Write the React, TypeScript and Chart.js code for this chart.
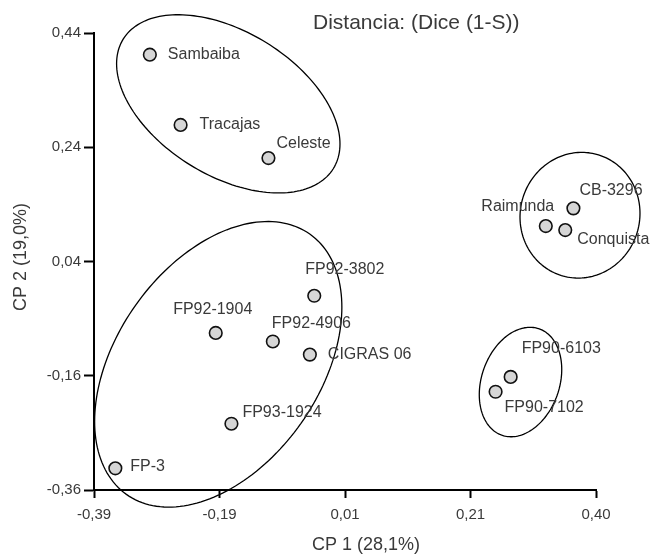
import React, { useEffect, useRef } from "react";
import { Chart, registerables } from "chart.js";

Chart.register(...registerables);

// ---- data ----
const names = [
  "Sambaiba",
  "Tracajas",
  "Celeste",
  "CB-3296",
  "Raimunda",
  "Conquista",
  "FP92-3802",
  "FP92-1904",
  "FP92-4906",
  "CIGRAS 06",
  "FP93-1924",
  "FP-3",
  "FP90-6103",
  "FP90-7102",
];
const cp1 = [-0.301, -0.252, -0.112, 0.374, 0.33, 0.361, -0.039, -0.196, -0.105, -0.046, -0.171, -0.356, 0.274, 0.25];
const cp2 = [0.402, 0.279, 0.221, 0.133, 0.102, 0.095, -0.02, -0.085, -0.1, -0.123, -0.244, -0.322, -0.162, -0.188];

const xTickValues = [-0.39, -0.19, 0.01, 0.21, 0.41];
const xTickLabels = ["-0,39", "-0,19", "0,01", "0,21", "0,40"];
const yTickValues = [-0.36, -0.16, 0.04, 0.24, 0.44];
const yTickLabels = ["-0,36", "-0,16", "0,04", "0,24", "0,44"];

// group ellipses (data units): centre, half extents, tilt (correlation)
const ellipseCx = [-0.176, -0.192, 0.3845, 0.2897];
const ellipseCy = [0.316, -0.14, 0.121, -0.171];
const ellipseHalfW = [0.178, 0.197, 0.0956, 0.0657];
const ellipseHalfH = [0.156, 0.25, 0.11, 0.0958];
const ellipseTilt = [-0.45, 0.4, 0.03, 0.23];

const titleText = "Distancia: (Dice (1-S))";
const xTitle = "CP 1 (28,1%)";
const yTitle = "CP 2 (19,0%)";

// label placement (pixel offsets from the point)
const labelPlacement: { dx: number; dy: number; align: CanvasTextAlign }[] = [
  { dx: 18, dy: 0, align: "left" },
  { dx: 19, dy: 0, align: "left" },
  { dx: 8, dy: -15, align: "left" },
  { dx: 6, dy: -18, align: "left" },
  { dx: -28, dy: -19, align: "center" },
  { dx: 12, dy: 10, align: "left" },
  { dx: -9, dy: -26, align: "left" },
  { dx: -3, dy: -23, align: "center" },
  { dx: -1, dy: -18, align: "left" },
  { dx: 18, dy: 0, align: "left" },
  { dx: 11, dy: -11, align: "left" },
  { dx: 15, dy: -2, align: "left" },
  { dx: 11, dy: -28, align: "left" },
  { dx: 9, dy: 16, align: "left" },
];

const FONT = "'Liberation Sans', Arial, Helvetica, sans-serif";
const TEXT = "#3a3a3a";

const overlayPlugin = {
  id: "overlay",
  afterDatasetsDraw(chart: any) {
    const ctx = chart.ctx as CanvasRenderingContext2D;
    const xs = chart.scales.x;
    const ys = chart.scales.y;
    ctx.save();
    // ellipses
    ctx.strokeStyle = "#000";
    ctx.lineWidth = 1.3;
    for (let e = 0; e < ellipseCx.length; e++) {
      const s = Math.sqrt(1 - ellipseTilt[e] * ellipseTilt[e]);
      ctx.beginPath();
      const N = 180;
      for (let i = 0; i <= N; i++) {
        const t = (i / N) * Math.PI * 2;
        const dxv = ellipseCx[e] + ellipseHalfW[e] * Math.cos(t);
        const dyv = ellipseCy[e] + ellipseHalfH[e] * (ellipseTilt[e] * Math.cos(t) + s * Math.sin(t));
        const px = xs.getPixelForValue(dxv);
        const py = ys.getPixelForValue(dyv);
        if (i === 0) ctx.moveTo(px, py);
        else ctx.lineTo(px, py);
      }
      ctx.closePath();
      ctx.stroke();
    }
    // point labels
    ctx.fillStyle = TEXT;
    ctx.font = `16px ${FONT}`;
    ctx.textBaseline = "middle";
    for (let i = 0; i < names.length; i++) {
      const px = xs.getPixelForValue(cp1[i]);
      const py = ys.getPixelForValue(cp2[i]);
      const p = labelPlacement[i];
      ctx.textAlign = p.align;
      ctx.fillText(names[i], px + p.dx, py + p.dy);
    }
    // titles
    ctx.font = `21px ${FONT}`;
    ctx.textAlign = "left";
    ctx.fillText(titleText, 313, 23);
    ctx.font = `18px ${FONT}`;
    ctx.textAlign = "center";
    ctx.fillText(xTitle, 366, 545);
    ctx.save();
    ctx.translate(21, 257);
    ctx.rotate(-Math.PI / 2);
    ctx.fillText(yTitle, 0, 0);
    ctx.restore();
    ctx.restore();
  },
};

export default function App() {
  const canvasRef = useRef<HTMLCanvasElement | null>(null);

  useEffect(() => {
    if (!canvasRef.current) return;
    const chart = new Chart(canvasRef.current, {
      type: "scatter",
      data: {
        datasets: [
          {
            label: "Genotipos",
            data: cp1.map((x, i) => ({ x, y: cp2[i] })),
            pointRadius: 6.3,
            pointHoverRadius: 6.3,
            pointBackgroundColor: "#d6d6d6",
            pointBorderColor: "#111111",
            pointBorderWidth: 1.6,
          },
        ],
      },
      options: {
        animation: false,
        responsive: true,
        maintainAspectRatio: false,
        layout: { padding: { top: 33, right: 54, left: 0, bottom: 0 } },
        plugins: {
          legend: { display: false },
          tooltip: { enabled: false },
        },
        scales: {
          x: {
            type: "linear",
            min: -0.39,
            max: 0.41,
            afterBuildTicks: (scale: any) => {
              scale.ticks = xTickValues.map((v) => ({ value: v }));
            },
            afterFit: (scale: any) => {
              scale.height = 64;
            },
            ticks: {
              padding: 8,
              color: TEXT,
              font: { family: FONT, size: 15 },
              maxRotation: 0,
              autoSkip: false,
              callback: (_v: any, idx: number) => xTickLabels[idx],
            },
            grid: {
              drawOnChartArea: false,
              drawTicks: true,
              tickLength: 8,
              tickWidth: 2,
              tickColor: "#000",
            },
            border: { display: true, color: "#000", width: 2 },
          },
          y: {
            type: "linear",
            min: -0.36,
            max: 0.44,
            afterBuildTicks: (scale: any) => {
              scale.ticks = yTickValues.map((v) => ({ value: v }));
            },
            afterFit: (scale: any) => {
              scale.width = 94;
            },
            ticks: {
              padding: 3,
              color: TEXT,
              font: { family: FONT, size: 15 },
              autoSkip: false,
              callback: (_v: any, idx: number) => yTickLabels[idx],
            },
            grid: {
              drawOnChartArea: false,
              drawTicks: true,
              tickLength: 10,
              tickWidth: 2,
              tickColor: "#000",
            },
            border: { display: true, color: "#000", width: 2 },
          },
        },
      },
      plugins: [overlayPlugin],
    });
    return () => chart.destroy();
  }, []);

  return (
    <div style={{ position: "absolute", left: 0, top: 0, width: 650, height: 554, background: "#fff" }}>
      <canvas ref={canvasRef} />
    </div>
  );
}
